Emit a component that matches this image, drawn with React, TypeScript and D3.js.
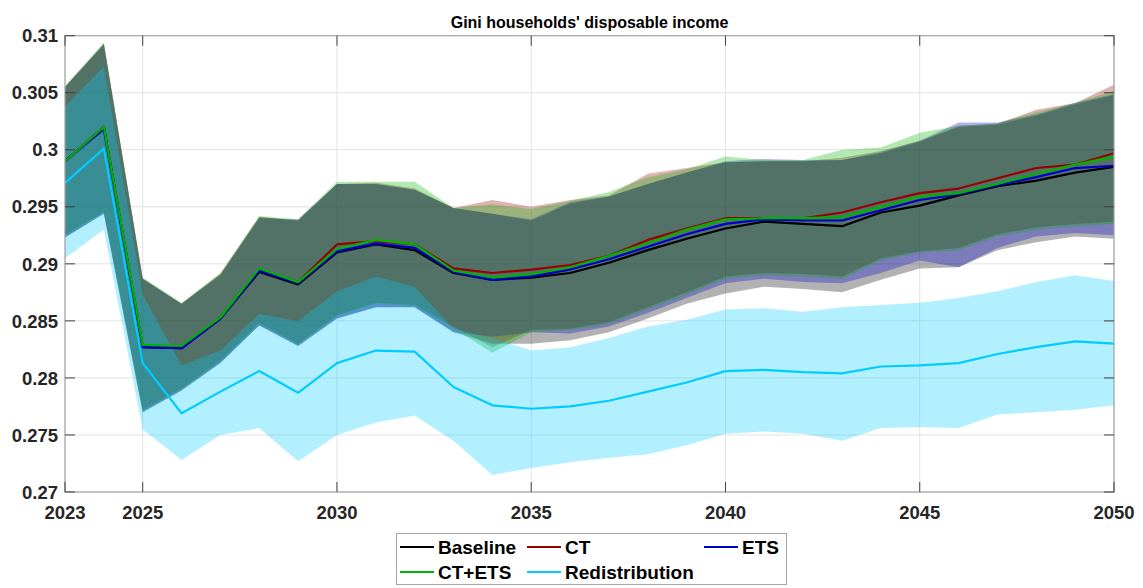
import * as d3 from 'd3'

const years = d3.range(2023, 2051)

const baseline = [0.299, 0.302, 0.2827, 0.2826, 0.2852, 0.2893, 0.2882, 0.291, 0.2917, 0.2912, 0.2892, 0.2886, 0.2888, 0.2892, 0.2901, 0.2912, 0.2922, 0.2931, 0.2937, 0.2935, 0.2933, 0.2945, 0.2951, 0.296, 0.2968, 0.2973, 0.298, 0.2985]
const ct = [0.299, 0.302, 0.2828, 0.2827, 0.2853, 0.2895, 0.2884, 0.2917, 0.292, 0.2917, 0.2896, 0.2892, 0.2895, 0.2899, 0.2907, 0.2921, 0.2931, 0.294, 0.294, 0.294, 0.2945, 0.2954, 0.2962, 0.2966, 0.2975, 0.2984, 0.2987, 0.2997]
const ets = [0.299, 0.3018, 0.2827, 0.2826, 0.2852, 0.2894, 0.2883, 0.2911, 0.2918, 0.2914, 0.2893, 0.2886, 0.2889, 0.2895, 0.2904, 0.2915, 0.2926, 0.2935, 0.2939, 0.2938, 0.2938, 0.2947, 0.2956, 0.2961, 0.2969, 0.2976, 0.2984, 0.2986]
const ctEts = [0.299, 0.302, 0.2829, 0.2828, 0.2853, 0.2896, 0.2884, 0.2913, 0.2921, 0.2917, 0.2894, 0.2888, 0.2891, 0.2897, 0.2907, 0.2918, 0.293, 0.2939, 0.294, 0.294, 0.2941, 0.295, 0.2959, 0.2962, 0.297, 0.2979, 0.2987, 0.2994]
const redistribution = [0.2971, 0.3001, 0.2813, 0.2769, 0.2788, 0.2806, 0.2787, 0.2813, 0.2824, 0.2823, 0.2792, 0.2776, 0.2773, 0.2775, 0.278, 0.2788, 0.2796, 0.2806, 0.2807, 0.2805, 0.2804, 0.281, 0.2811, 0.2813, 0.2821, 0.2827, 0.2832, 0.283]

const baselineHi = [0.3055, 0.3093, 0.2887, 0.2865, 0.2891, 0.2941, 0.2938, 0.297, 0.297, 0.2965, 0.2949, 0.2944, 0.2938, 0.2953, 0.2959, 0.297, 0.298, 0.2989, 0.299, 0.299, 0.2991, 0.2997, 0.3007, 0.302, 0.3022, 0.303, 0.304, 0.3048]
const baselineLo = [0.2923, 0.2944, 0.277, 0.2789, 0.2813, 0.2846, 0.2828, 0.2852, 0.2862, 0.2862, 0.284, 0.283, 0.283, 0.2833, 0.284, 0.2852, 0.2865, 0.2874, 0.288, 0.2878, 0.2875, 0.2886, 0.2896, 0.2897, 0.2912, 0.2919, 0.2924, 0.2922]
const ctHi = [0.3055, 0.3093, 0.2887, 0.2865, 0.2891, 0.2941, 0.2938, 0.297, 0.2971, 0.2966, 0.2949, 0.2956, 0.295, 0.2956, 0.296, 0.2979, 0.2984, 0.2989, 0.299, 0.299, 0.2993, 0.2999, 0.3008, 0.3021, 0.3023, 0.3035, 0.3041, 0.3057]
const ctLo = [0.2925, 0.2946, 0.2772, 0.2791, 0.2815, 0.2848, 0.283, 0.2855, 0.2866, 0.2864, 0.2845, 0.2827, 0.2842, 0.2843, 0.2849, 0.2862, 0.2875, 0.2889, 0.2892, 0.2891, 0.2889, 0.2905, 0.2911, 0.2914, 0.2926, 0.2932, 0.2935, 0.2937]
const etsHi = [0.3055, 0.3092, 0.2887, 0.2865, 0.289, 0.294, 0.2939, 0.297, 0.297, 0.2965, 0.2949, 0.2944, 0.2939, 0.2954, 0.2959, 0.297, 0.298, 0.299, 0.2992, 0.2991, 0.2991, 0.2998, 0.3008, 0.3024, 0.3024, 0.3031, 0.3041, 0.3049]
const etsLo = [0.2923, 0.2944, 0.277, 0.2789, 0.2813, 0.2846, 0.2828, 0.2852, 0.2862, 0.2862, 0.284, 0.2836, 0.284, 0.2839, 0.2845, 0.2857, 0.287, 0.2883, 0.2887, 0.2884, 0.2883, 0.2892, 0.2903, 0.2897, 0.2914, 0.2924, 0.2927, 0.2925]
const ctEtsHi = [0.3056, 0.3094, 0.2888, 0.2866, 0.2892, 0.2942, 0.2939, 0.2972, 0.2972, 0.2972, 0.2949, 0.2952, 0.2948, 0.2955, 0.2963, 0.2976, 0.2983, 0.2994, 0.2991, 0.2991, 0.3, 0.3002, 0.3015, 0.3021, 0.3023, 0.3033, 0.3041, 0.3052]
const ctEtsLo = [0.2924, 0.2945, 0.2771, 0.279, 0.2814, 0.2847, 0.2829, 0.2854, 0.2865, 0.2863, 0.2843, 0.2822, 0.284, 0.2842, 0.2847, 0.286, 0.2873, 0.2887, 0.289, 0.2889, 0.2887, 0.2903, 0.291, 0.2912, 0.2924, 0.293, 0.2933, 0.2935]
const redistHi = [0.3038, 0.3073, 0.2873, 0.2811, 0.2824, 0.2856, 0.285, 0.2876, 0.2889, 0.288, 0.2843, 0.2835, 0.2824, 0.2827, 0.2835, 0.2845, 0.2851, 0.286, 0.2861, 0.2858, 0.2862, 0.2864, 0.2866, 0.287, 0.2876, 0.2884, 0.289, 0.2885]
const redistLo = [0.2905, 0.293, 0.2755, 0.2728, 0.275, 0.2756, 0.2727, 0.275, 0.2761, 0.2767, 0.2745, 0.2715, 0.2721, 0.2726, 0.273, 0.2733, 0.2741, 0.2751, 0.2753, 0.2751, 0.2745, 0.2756, 0.2757, 0.2756, 0.2768, 0.277, 0.2772, 0.2776]

const yTicks = [0.27, 0.275, 0.28, 0.285, 0.29, 0.295, 0.3, 0.305, 0.31]
const yTickLabels = ['0.27', '0.275', '0.28', '0.285', '0.29', '0.295', '0.3', '0.305', '0.31']
const xTicks = [2023, 2025, 2030, 2035, 2040, 2045, 2050]

const series = [
  { name: 'Baseline', color: '#000000', mean: baseline, hi: baselineHi, lo: baselineLo },
  { name: 'CT', color: '#990000', mean: ct, hi: ctHi, lo: ctLo },
  { name: 'ETS', color: '#0000cc', mean: ets, hi: etsHi, lo: etsLo },
  { name: 'CT+ETS', color: '#00b300', mean: ctEts, hi: ctEtsHi, lo: ctEtsLo },
  { name: 'Redistribution', color: '#00ccff', mean: redistribution, hi: redistHi, lo: redistLo },
]

const W = 1143
const H = 588
const M = { left: 65, right: 1114, top: 35.7, bottom: 492 }
const FONT = '"Liberation Sans", Arial, Helvetica, sans-serif'

export default function App() {
  const x = d3.scaleLinear().domain([2023, 2050]).range([M.left, M.right])
  const y = d3.scaleLinear().domain([0.27, 0.31]).range([M.bottom, M.top])

  const area = (hi: number[], lo: number[]) =>
    d3.area<number>().x((_, i) => x(years[i])).y0((_, i) => y(lo[i])).y1((d) => y(d))(hi) || ''
  const line = (vals: number[]) =>
    d3.line<number>().x((_, i) => x(years[i])).y((d) => y(d))(vals) || ''

  const legendCols = [400, 527, 704]
  const legendRows = [547, 572]

  return (
    <svg width={W} height={H} style={{ position: 'absolute', left: 0, top: 0, background: '#fff' }} fontFamily={FONT}>
      <defs>
        <clipPath id="plot">
          <rect x={M.left} y={M.top} width={M.right - M.left} height={M.bottom - M.top} />
        </clipPath>
      </defs>

      {/* grid */}
      {yTicks.map((t) => (
        <line key={'gy' + t} x1={M.left} x2={M.right} y1={y(t)} y2={y(t)} stroke="#e3e3e3" strokeWidth={1} />
      ))}
      {xTicks.map((t) => (
        <line key={'gx' + t} x1={x(t)} x2={x(t)} y1={M.top} y2={M.bottom} stroke="#e3e3e3" strokeWidth={1} />
      ))}

      <g clipPath="url(#plot)">
        {series.map((s) => (
          <path key={'band' + s.name} d={area(s.hi, s.lo)} fill={s.color} fillOpacity={0.3} stroke="none" />
        ))}
        {series.map((s) => (
          <path key={'line' + s.name} d={line(s.mean)} fill="none" stroke={s.color} strokeWidth={2.2} strokeLinejoin="round" />
        ))}
      </g>

      {/* axes box */}
      <rect x={M.left} y={M.top} width={M.right - M.left} height={M.bottom - M.top} fill="none" stroke="#a6a6a6" strokeWidth={1.2} />

      {/* ticks */}
      {yTicks.map((t, i) => (
        <g key={'ty' + t}>
          <line x1={M.left} x2={M.left + 10} y1={y(t)} y2={y(t)} stroke="#404040" />
          <line x1={M.right} x2={M.right - 10} y1={y(t)} y2={y(t)} stroke="#404040" />
          <text x={M.left - 7} y={y(t)} dy="0.36em" textAnchor="end" fontSize={18.5} fontWeight="bold" fill="#262626">
            {yTickLabels[i]}
          </text>
        </g>
      ))}
      {xTicks.map((t) => (
        <g key={'tx' + t}>
          <line x1={x(t)} x2={x(t)} y1={M.bottom} y2={M.bottom - 10} stroke="#404040" />
          <line x1={x(t)} x2={x(t)} y1={M.top} y2={M.top + 10} stroke="#404040" />
          <text x={x(t)} y={M.bottom + 27} textAnchor="middle" fontSize={18.5} fontWeight="bold" fill="#262626">
            {t}
          </text>
        </g>
      ))}

      <text x={(M.left + M.right) / 2} y={28} textAnchor="middle" fontSize={16} fontWeight="bold" fill="#000">
        Gini households' disposable income
      </text>

      {/* legend */}
      <rect x={396.5} y={533.5} width={390} height={51} fill="#fff" stroke="#a6a6a6" strokeWidth={1} />
      {series.map((s, i) => {
        const lx = legendCols[i % 3]
        const ly = legendRows[Math.floor(i / 3)]
        return (
          <g key={'lg' + s.name}>
            <line x1={lx} x2={lx + 34} y1={ly} y2={ly} stroke={s.color} strokeWidth={2} />
            <text x={lx + 38} y={ly} dy="0.36em" fontSize={19} fontWeight="bold" fill="#000">
              {s.name}
            </text>
          </g>
        )
      })}
    </svg>
  )
}
